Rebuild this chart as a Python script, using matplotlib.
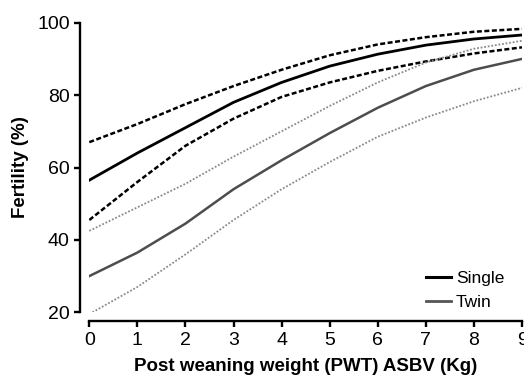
import matplotlib
matplotlib.use("Agg")
import matplotlib.pyplot as plt
from matplotlib.lines import Line2D

plt.rcParams['font.family'] = ['Liberation Sans', 'DejaVu Sans']

pwt = [0, 1, 2, 3, 4, 5, 6, 7, 8, 9]
single_mean = [56.5, 64, 71, 78, 83.5, 88, 91.3, 93.8, 95.5, 96.6]
single_upper = [67, 72, 77.5, 82.5, 87, 91, 94, 96, 97.5, 98.3]
single_lower = [45.5, 56, 66, 73.5, 79.5, 83.5, 86.7, 89.3, 91.5, 93.2]
twin_mean = [30, 36.5, 44.5, 54, 62, 69.5, 76.5, 82.5, 87, 90]
twin_upper = [42.5, 49, 55.5, 63, 70, 77, 83.5, 89, 92.8, 95]
twin_lower = [19.5, 27, 36, 45.5, 54, 61.5, 68.5, 73.8, 78.3, 82]

xticks = [0, 1, 2, 3, 4, 5, 6, 7, 8, 9]
yticks = [20, 40, 60, 80, 100]

fig = plt.figure(figsize=(5.24, 3.78), dpi=100)
ax = fig.add_axes([89.3/524, 1-312.3/378, (522-89.3)/524, (312.3-22.7)/378])

ax.plot(pwt, single_upper, color='black', lw=1.8, linestyle=(0, (2, 1)))
ax.plot(pwt, single_lower, color='black', lw=1.8, linestyle=(0, (2, 1)))
ax.plot(pwt, single_mean, color='black', lw=2.0)
ax.plot(pwt, twin_upper, color='#8a8a8a', lw=1.3, linestyle=(0, (1, 1)))
ax.plot(pwt, twin_lower, color='#8a8a8a', lw=1.3, linestyle=(0, (1, 1)))
ax.plot(pwt, twin_mean, color='#4d4d4d', lw=1.8)

ax.set_xlim(0, 9)
ax.set_ylim(20, 100)
ax.set_xticks(xticks)
ax.set_yticks(yticks)
for s in ['top', 'right']:
    ax.spines[s].set_visible(False)
for s in ['left', 'bottom']:
    ax.spines[s].set_linewidth(1.7)
    ax.spines[s].set_position(('outward', 6.5))
ax.tick_params(axis='both', width=1.7, length=4.5, labelsize=14, colors='black', pad=3)
ax.set_xlabel('Post weaning weight (PWT) ASBV (Kg)', fontsize=13.5, fontweight='bold', labelpad=7)
ax.set_ylabel('Fertility (%)', fontsize=13.5, fontweight='bold', labelpad=6)

handles = [Line2D([], [], color='black', lw=2.2), Line2D([], [], color='#555555', lw=2.0)]
ax.legend(handles, ['Single', 'Twin'], loc='lower right', frameon=False, fontsize=12.5,
          handlelength=1.4, handletextpad=0.3, labelspacing=0.5,
          bbox_to_anchor=(0.995, -0.045))

fig.savefig('out.png', dpi=100)
